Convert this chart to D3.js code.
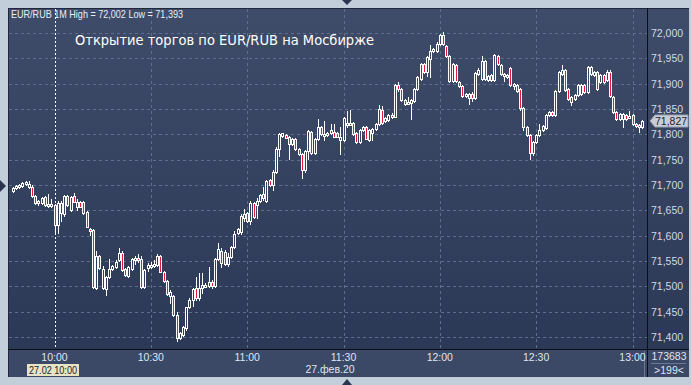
<!DOCTYPE html>
<html lang="ru">
<head>
<meta charset="UTF-8">
<title>EUR/RUB 1M</title>
<script src="https://cdnjs.cloudflare.com/ajax/libs/d3/7.8.5/d3.min.js"></script>
<style>
  body { margin: 0; background: #c3cedb; }
  svg { display: block; font-family: "Liberation Sans", Arial, sans-serif; }
</style>
</head>
<body>
<svg id="chart" width="691" height="385"></svg>
<script>
// 1-minute candles, first one at 09:47
const firstMinute = "09:47";
const opens = [71.689,71.695,71.697,71.699,71.704,71.696,71.697,71.679,71.664,71.664,71.676,71.661,71.659,71.661,71.621,71.644,71.642,71.678,71.651,71.678,
  71.657,71.666,71.666,71.647,71.614,71.611,71.497,71.559,71.496,71.495,71.519,71.535,71.539,71.552,71.565,71.535,71.521,71.535,71.553,71.555,
  71.554,71.499,71.537,71.541,71.542,71.542,71.559,71.528,71.511,71.480,71.481,71.443,71.399,71.404,71.418,71.459,71.474,71.496,71.476,71.496,
  71.500,71.500,71.509,71.500,71.554,71.570,71.568,71.545,71.557,71.578,71.605,71.608,71.634,71.644,71.629,71.664,71.661,71.669,71.682,71.668,
  71.709,71.700,71.726,71.772,71.797,71.799,71.794,71.781,71.791,71.771,71.761,71.730,71.768,71.804,71.764,71.791,71.814,71.797,71.798,71.802,
  71.804,71.802,71.789,71.789,71.820,71.820,71.822,71.802,71.784,71.808,71.814,71.789,71.803,71.810,71.821,71.848,71.826,71.829,71.838,71.835,
  71.898,71.889,71.868,71.862,71.862,71.866,71.889,71.909,71.939,71.924,71.949,71.965,71.965,71.978,71.996,71.975,71.955,71.906,71.937,71.904,
  71.896,71.876,71.871,71.880,71.871,71.919,71.909,71.945,71.908,71.917,71.908,71.954,71.937,71.916,71.916,71.930,71.897,71.897,71.889,71.851,
  71.815,71.799,71.764,71.784,71.798,71.808,71.813,71.838,71.845,71.839,71.885,71.920,71.926,71.890,71.864,71.870,71.877,71.880,71.897,71.884,
  71.920,71.917,71.923,71.903,71.917,71.907,71.924,71.874,71.845,71.831,71.830,71.838,71.834,71.838,71.821,71.819,71.815];
const highs = [71.697,71.700,71.702,71.706,71.708,71.707,71.700,71.681,71.671,71.677,71.678,71.682,71.673,71.663,71.669,71.668,71.681,71.680,71.679,71.684,
  71.672,71.669,71.668,71.649,71.616,71.613,71.570,71.562,71.540,71.521,71.554,71.543,71.551,71.575,71.570,71.537,71.541,71.556,71.560,71.563,
  71.560,71.535,71.547,71.548,71.552,71.563,71.561,71.530,71.513,71.493,71.483,71.450,71.409,71.421,71.460,71.476,71.496,71.519,71.527,71.527,
  71.506,71.539,71.512,71.556,71.585,71.575,71.571,71.565,71.580,71.610,71.616,71.642,71.653,71.646,71.668,71.666,71.674,71.682,71.697,71.710,
  71.711,71.729,71.775,71.802,71.803,71.801,71.796,71.793,71.793,71.773,71.763,71.770,71.808,71.806,71.793,71.830,71.816,71.827,71.804,71.820,
  71.820,71.804,71.814,71.834,71.847,71.849,71.824,71.804,71.810,71.816,71.816,71.810,71.812,71.822,71.858,71.855,71.834,71.840,71.842,71.899,
  71.904,71.891,71.870,71.873,71.870,71.891,71.915,71.941,71.941,71.954,71.976,71.970,71.983,71.998,72.002,71.977,71.957,71.941,71.939,71.906,
  71.898,71.882,71.882,71.883,71.923,71.930,71.955,71.947,71.918,71.919,71.959,71.956,71.939,71.922,71.920,71.932,71.902,71.899,71.891,71.853,
  71.817,71.801,71.786,71.800,71.821,71.818,71.840,71.847,71.847,71.887,71.925,71.936,71.928,71.892,71.876,71.879,71.899,71.900,71.899,71.935,
  71.935,71.925,71.925,71.919,71.919,71.926,71.926,71.876,71.847,71.843,71.843,71.840,71.846,71.840,71.823,71.821,71.829];
const lows = [71.686,71.693,71.694,71.697,71.700,71.694,71.677,71.662,71.661,71.662,71.658,71.656,71.656,71.608,71.606,71.628,71.638,71.659,71.648,71.666,
  71.650,71.656,71.643,71.617,71.601,71.497,71.495,71.535,71.494,71.483,71.517,71.532,71.537,71.550,71.530,71.521,71.519,71.533,71.545,71.549,
  71.497,71.497,71.530,71.536,71.538,71.540,71.528,71.509,71.483,71.467,71.442,71.393,71.397,71.402,71.414,71.457,71.462,71.474,71.474,71.486,
  71.498,71.498,71.496,71.498,71.552,71.539,71.543,71.540,71.555,71.576,71.603,71.603,71.628,71.627,71.624,71.635,71.634,71.667,71.670,71.666,
  71.699,71.690,71.724,71.758,71.795,71.792,71.751,71.779,71.770,71.760,71.714,71.725,71.751,71.762,71.762,71.789,71.799,71.789,71.796,71.800,
  71.794,71.794,71.762,71.787,71.814,71.818,71.799,71.783,71.782,71.806,71.790,71.787,71.789,71.808,71.819,71.821,71.824,71.827,71.833,71.834,
  71.886,71.866,71.857,71.859,71.831,71.864,71.887,71.907,71.922,71.915,71.914,71.963,71.963,71.976,71.976,71.953,71.904,71.904,71.904,71.894,
  71.874,71.874,71.860,71.866,71.869,71.917,71.907,71.907,71.906,71.906,71.906,71.937,71.917,71.905,71.912,71.895,71.890,71.884,71.849,71.809,
  71.797,71.752,71.760,71.782,71.796,71.806,71.811,71.836,71.837,71.837,71.883,71.918,71.885,71.868,71.857,71.868,71.875,71.878,71.882,71.882,
  71.918,71.915,71.888,71.901,71.901,71.905,71.874,71.843,71.828,71.829,71.815,71.828,71.832,71.819,71.814,71.805,71.813];
const closes = [71.695,71.698,71.700,71.704,71.706,71.702,71.679,71.664,71.668,71.675,71.660,71.663,71.663,71.621,71.664,71.665,71.678,71.660,71.677,71.667,
  71.667,71.657,71.644,71.618,71.611,71.499,71.560,71.536,71.535,71.519,71.535,71.541,71.549,71.565,71.532,71.523,71.539,71.554,71.555,71.551,
  71.499,71.532,71.542,71.543,71.544,71.559,71.529,71.510,71.484,71.488,71.443,71.399,71.407,71.419,71.459,71.474,71.495,71.476,71.497,71.503,
  71.503,71.508,71.500,71.554,71.574,71.547,71.545,71.557,71.578,71.603,71.614,71.639,71.642,71.629,71.664,71.637,71.669,71.680,71.674,71.708,
  71.700,71.726,71.772,71.800,71.802,71.793,71.781,71.791,71.771,71.761,71.730,71.768,71.806,71.764,71.791,71.814,71.800,71.800,71.802,71.808,
  71.795,71.795,71.794,71.832,71.822,71.822,71.800,71.784,71.808,71.814,71.791,71.808,71.810,71.821,71.850,71.823,71.832,71.838,71.835,71.897,
  71.889,71.868,71.859,71.864,71.868,71.889,71.913,71.939,71.924,71.952,71.965,71.968,71.978,71.996,71.978,71.955,71.906,71.939,71.906,71.896,
  71.876,71.880,71.880,71.871,71.921,71.926,71.945,71.909,71.916,71.908,71.957,71.939,71.919,71.919,71.917,71.897,71.900,71.886,71.851,71.814,
  71.799,71.764,71.784,71.798,71.808,71.816,71.838,71.845,71.839,71.885,71.923,71.926,71.887,71.870,71.874,71.877,71.897,71.898,71.884,71.933,
  71.933,71.923,71.890,71.917,71.903,71.924,71.876,71.845,71.830,71.841,71.841,71.830,71.837,71.821,71.816,71.816,71.827];

const yTicks = [71.40,71.45,71.50,71.55,71.60,71.65,71.70,71.75,71.80,71.85,71.90,71.95,72.00];
const xTicks = ["10:00","10:30","11:00","11:30","12:00","12:30","13:00"];
const lastPrice = 71.827;
const headerText = "EUR/RUB 1M High = 72,002 Low = 71,393";
const titleText = "Открытие торгов по EUR/RUB на Мосбирже";
const dateText = "27.фев.20";
const cursorTime = "10:00";
const cursorText = "27.02 10:00";
const volumeText = "173683";
const countText = ">199<";

const W = 691, H = 385;
const plot = { left: 9, right: 647, top: 9, bottom: 349 };
const axisBottom = 377, axisRight = 689;

const parse = d3.timeParse("%H:%M");
const fmt = v => d3.format(".3f")(v).replace(".", ",");
const start = parse(firstMinute);
const candles = closes.map((c, i) => ({
  t: d3.timeMinute.offset(start, i), o: opens[i], h: highs[i], l: lows[i], c: c
}));

const x = d3.scaleTime().domain([parse("10:00"), parse("13:00")]).range([54.5, 632.5]);
const y = d3.scaleLinear().domain([71.40, 72.00]).range([337, 33]);

const svg = d3.select("#chart");
const defs = svg.append("defs");
const grad = defs.append("linearGradient").attr("id", "bg")
  .attr("gradientUnits", "userSpaceOnUse")
  .attr("x1", 0).attr("y1", plot.top).attr("x2", 0).attr("y2", plot.bottom);
grad.append("stop").attr("offset", 0).attr("stop-color", "#3f4c69");
grad.append("stop").attr("offset", 1).attr("stop-color", "#2b3856");
defs.append("clipPath").attr("id", "clip").append("rect")
  .attr("x", plot.left).attr("y", plot.top)
  .attr("width", plot.right - plot.left).attr("height", plot.bottom - plot.top);

// frame and panels
svg.append("rect").attr("width", W).attr("height", H).attr("fill", "#c3cedb");
svg.append("rect").attr("x", 8).attr("y", 8).attr("width", axisRight - 8).attr("height", plot.bottom - 8)
  .attr("fill", "url(#bg)");
svg.append("rect").attr("x", 8).attr("y", plot.bottom).attr("width", axisRight - 8)
  .attr("height", axisBottom - plot.bottom).attr("fill", "#3b4866");
svg.append("line").attr("x1", 8).attr("x2", axisRight).attr("y1", 8.5).attr("y2", 8.5).attr("stroke", "#1f283a");
svg.append("line").attr("x1", 8.5).attr("x2", 8.5).attr("y1", 8).attr("y2", axisBottom).attr("stroke", "#1f283a");

// grid
const grid = svg.append("g").attr("stroke", "#5f6e8c").attr("stroke-dasharray", "3,3").attr("shape-rendering", "crispEdges");
grid.selectAll(".h").data(yTicks).join("line")
  .attr("x1", plot.left).attr("x2", plot.right)
  .attr("y1", d => Math.round(y(d)) + 0.5).attr("y2", d => Math.round(y(d)) + 0.5);
grid.selectAll(".v").data(xTicks.slice(1)).join("line")
  .attr("y1", plot.top).attr("y2", plot.bottom)
  .attr("x1", d => Math.round(x(parse(d))) + 0.5).attr("x2", d => Math.round(x(parse(d))) + 0.5);

// cursor line
const cx0 = Math.round(x(parse(cursorTime))) + 0.5;
svg.append("line").attr("x1", cx0).attr("x2", cx0).attr("y1", plot.top).attr("y2", plot.bottom)
  .attr("stroke", "#ffffff").attr("stroke-dasharray", "2,2");

// candles
const cg = svg.append("g").attr("clip-path", "url(#clip)").attr("shape-rendering", "crispEdges");
const item = cg.selectAll("g").data(candles).join("g");
item.append("line")
  .attr("x1", d => Math.round(x(d.t)) + 0.5).attr("x2", d => Math.round(x(d.t)) + 0.5)
  .attr("y1", d => Math.round(y(d.h))).attr("y2", d => Math.round(y(d.l)) + 1)
  .attr("stroke", "#ffffff");
item.append("rect")
  .attr("x", d => Math.round(x(d.t)) - 0.5)
  .attr("width", 2)
  .attr("y", d => Math.round(y(Math.max(d.o, d.c))) + 0.5)
  .attr("height", d => Math.max(2, Math.round(y(Math.min(d.o, d.c))) - Math.round(y(Math.max(d.o, d.c)))))
  .attr("fill", d => d.c < d.o ? "#e8163c" : "url(#bg)")
  .attr("stroke", "#ffffff");

// separators
svg.append("line").attr("x1", 8).attr("x2", axisRight).attr("y1", plot.bottom + 0.5).attr("y2", plot.bottom + 0.5).attr("stroke", "#0c0f16");
svg.append("line").attr("x1", plot.right + 0.5).attr("x2", plot.right + 0.5).attr("y1", 8).attr("y2", axisBottom).attr("stroke", "#0c0f16");
svg.append("line").attr("x1", 644.5).attr("x2", 644.5).attr("y1", plot.bottom + 2).attr("y2", axisBottom).attr("stroke", "#6a7794");
svg.append("line").attr("x1", 651).attr("x2", 686).attr("y1", 363.5).attr("y2", 363.5).attr("stroke", "#6a7794");

// y axis labels
svg.append("g").selectAll("text").data(yTicks).join("text")
  .attr("x", 651).attr("y", d => y(d) + 4)
  .attr("font-size", 10.5).attr("fill", "#cfd9ea")
  .text(fmt);

// last price marker
const ly = Math.round(y(lastPrice));
svg.append("path")
  .attr("d", `M650,${ly} L655,${ly - 6} L688,${ly - 6} L688,${ly + 6} L655,${ly + 6} Z`)
  .attr("fill", "#c8ccd4").attr("stroke", "#9aa2b0");
svg.append("text").attr("x", 655).attr("y", ly + 4).attr("font-size", 10.5).attr("fill", "#1d2230").text(fmt(lastPrice));

// x axis labels
svg.append("g").selectAll("text").data(xTicks).join("text")
  .attr("x", d => x(parse(d))).attr("y", 361).attr("text-anchor", "middle")
  .attr("font-size", 10.5).attr("fill", "#dfe6f2").text(d => d);
svg.append("text").attr("x", 330).attr("y", 373).attr("text-anchor", "middle")
  .attr("font-size", 10.5).attr("fill", "#dfe6f2").text(dateText);
svg.append("rect").attr("x", 27).attr("y", 364).attr("width", 52).attr("height", 12).attr("fill", "#e6e4c4");
svg.append("text").attr("x", 53).attr("y", 374).attr("text-anchor", "middle")
  .attr("font-size", 10).attr("fill", "#1d2230")
  .attr("textLength", 48).attr("lengthAdjust", "spacingAndGlyphs").text(cursorText);
svg.append("text").attr("x", 669).attr("y", 360).attr("text-anchor", "middle")
  .attr("font-size", 10.5).attr("fill", "#dfe6f2").text(volumeText);
svg.append("text").attr("x", 669).attr("y", 374).attr("text-anchor", "middle")
  .attr("font-size", 10.5).attr("fill", "#dfe6f2").text(countText);

// header and title
svg.append("text").attr("x", 11).attr("y", 18).attr("font-size", 10.5).attr("fill", "#e8edf5")
  .attr("textLength", 172).attr("lengthAdjust", "spacingAndGlyphs").text(headerText);
svg.append("text").attr("x", 75).attr("y", 45).attr("font-size", 14)
  .attr("font-family", "'DejaVu Sans', sans-serif").attr("fill", "#ffffff")
  .attr("textLength", 299).attr("lengthAdjust", "spacingAndGlyphs").text(titleText);

// small frame markers
svg.append("path").attr("d", "M342,0 L352,0 L347,5 Z").attr("fill", "#2a3550");
svg.append("path").attr("d", "M342,385 L352,385 L347,379 Z").attr("fill", "#2a3550");
svg.append("path").attr("d", "M0,180 L0,192 L6,186 Z").attr("fill", "#2a3550");
</script>
</body>
</html>
